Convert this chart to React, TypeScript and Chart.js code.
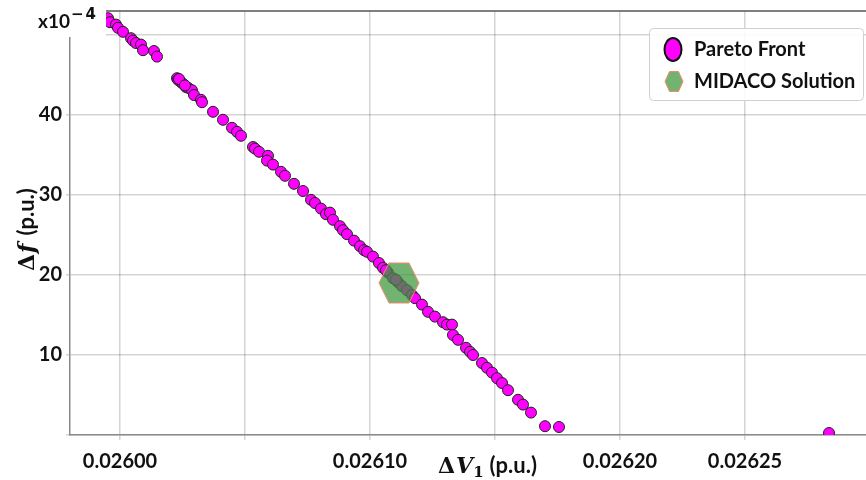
import React, { useEffect, useRef } from "react";
import { Chart, registerables } from "chart.js";

Chart.register(...registerables);

// Pareto front points (ΔV1 in p.u., Δf in units of 1e-4 p.u.)
const paretoX = [
  0.0259952, 0.025996, 0.0259984, 0.0259992, 0.0260012, 0.0260044, 0.0260052, 0.0260064,
  0.0260084, 0.0260092, 0.0260136, 0.0260148, 0.0260228, 0.0260232, 0.0260244, 0.0260252,
  0.0260264, 0.0260272, 0.0260288, 0.0260296, 0.0260324, 0.0260328, 0.0260372, 0.0260412,
  0.0260448, 0.0260468, 0.0260484, 0.0260532, 0.026054, 0.0260556, 0.0260592, 0.0260588,
  0.0260612, 0.0260644, 0.026066, 0.0260696, 0.0260732, 0.0260764, 0.026078, 0.0260804,
  0.0260824, 0.026084, 0.0260852, 0.026088, 0.0260892, 0.0260908, 0.0260936, 0.026096,
  0.0260976, 0.0260988, 0.0261012, 0.0261036, 0.0261052, 0.0261072, 0.0261092, 0.0261112,
  0.0261128, 0.0261148, 0.0261168, 0.026118, 0.0261208, 0.0261232, 0.026126, 0.0261292,
  0.0261308, 0.0261328, 0.0261332, 0.0261352, 0.0261384, 0.02614, 0.0261412, 0.0261448,
  0.0261468, 0.0261488, 0.0261508, 0.0261528, 0.0261552, 0.0261592, 0.0261612, 0.0261644,
  0.02617, 0.0261756, 0.0262836, 0.0261064, 0.0261104, 0.0260236, 0.026026,
];
const paretoY = [
  52.1, 51.6, 51.3, 50.9, 50.4, 49.6, 49.3, 49.0,
  48.8, 48.1, 48.0, 47.3, 44.6, 44.4, 44.1, 43.9,
  43.5, 43.4, 43.1, 42.5, 41.9, 41.6, 40.4, 39.4,
  38.4, 37.9, 37.4, 36.0, 35.8, 35.4, 34.9, 34.3,
  33.8, 32.9, 32.4, 31.4, 30.5, 29.4, 29.0, 28.3,
  27.6, 27.8, 26.9, 26.1, 25.6, 25.1, 24.3, 23.6,
  23.1, 22.9, 22.3, 21.5, 20.9, 20.3, 19.6, 19.1,
  18.6, 18.1, 17.5, 17.1, 16.3, 15.4, 14.8, 14.1,
  13.8, 13.8, 12.5, 11.9, 10.9, 10.4, 10.0, 9.0,
  8.4, 7.8, 7.1, 6.5, 5.6, 4.4, 3.8, 2.8,
  1.1, 1.0, 0.25, 20.6, 19.4, 44.5, 43.7,
];

// MIDACO solution
const midacoX = [0.0261116];
const midacoY = [19.0];

const seriesLabels = ["Pareto Front", "MIDACO Solution"];

const xTickValues = [0.026, 0.02605, 0.0261, 0.02615, 0.0262, 0.02625];
const xTickLabels = ["0.02600", "", "0.02610", "", "0.02620", "0.02625"];
const yTickValues = [0, 10, 20, 30, 40, 50];
const yTickLabels = ["", "10", "20", "30", "40", ""];

const X_MIN = 0.02598;
const X_MAX = 0.0262984;
const Y_MIN = 0;
const Y_MAX = 53;

const HEX_FILL = "rgba(60,150,60,0.72)";
const HEX_EDGE = "#f4876f";
const PARETO_FILL = "#ff00ff";

function hexPath(ctx: CanvasRenderingContext2D, cx: number, cy: number, rx: number, ry: number) {
  ctx.beginPath();
  for (let i = 0; i < 6; i++) {
    const a = (Math.PI / 3) * i;
    const px = cx + rx * Math.cos(a);
    const py = cy + ry * Math.sin(a);
    if (i === 0) ctx.moveTo(px, py);
    else ctx.lineTo(px, py);
  }
  ctx.closePath();
}

function makeHexImage(): HTMLCanvasElement {
  const c = document.createElement("canvas");
  c.width = 44;
  c.height = 44;
  const ctx = c.getContext("2d")!;
  hexPath(ctx, 22, 22, 20, 23.1);
  ctx.fillStyle = HEX_FILL;
  ctx.fill();
  ctx.lineWidth = 1;
  ctx.strokeStyle = HEX_EDGE;
  ctx.stroke();
  return c;
}

const overlayPlugin = {
  id: "overlay",
  afterDraw(chart: any) {
    const ctx: CanvasRenderingContext2D = chart.ctx;
    const area = chart.chartArea;
    ctx.save();

    // top spine
    ctx.strokeStyle = "#555";
    ctx.lineWidth = 1.5;
    ctx.beginPath();
    ctx.moveTo(area.left, area.top);
    ctx.lineTo(area.right, area.top);
    ctx.stroke();

    // white box with exponent label (top-left)
    ctx.fillStyle = "#fff";
    ctx.fillRect(0, 0, 106, 37);
    ctx.fillStyle = "#111";
    ctx.textBaseline = "alphabetic";
    ctx.textAlign = "left";
    ctx.font = "bold 19px Lato, 'DejaVu Sans', sans-serif";
    ctx.fillText("x10", 38, 28);
    const w1 = ctx.measureText("x10").width;
    ctx.font = "bold 15px 'DejaVu Sans', sans-serif";
    ctx.fillText("\u2212", 38 + w1 + 1, 19);
    const w2 = ctx.measureText("\u2212").width;
    ctx.fillText("4", 38 + w1 + w2 + 3, 19);

    // x axis title: ΔV1 (p.u.)
    let x = 438;
    const yb = 473;
    ctx.font = "bold 22px 'DejaVu Serif', serif";
    ctx.fillText("\u0394", x, yb);
    x += ctx.measureText("\u0394").width + 1;
    ctx.font = "italic bold 22px 'DejaVu Serif', serif";
    ctx.fillText("V", x, yb);
    x += ctx.measureText("V").width;
    ctx.font = "bold 15px 'DejaVu Serif', serif";
    ctx.fillText("1", x, yb + 4);
    x += ctx.measureText("1").width + 6;
    ctx.font = "bold 22px Lato, sans-serif";
    ctx.fillText("(p.u.)", x, yb);

    // y axis title: Δf (p.u.)
    ctx.save();
    ctx.translate(34, 271);
    ctx.rotate(-Math.PI / 2);
    let yx = 0;
    ctx.font = "bold 22px 'DejaVu Serif', serif";
    ctx.fillText("\u0394", yx, 0);
    yx += ctx.measureText("\u0394").width + 1;
    ctx.font = "italic bold 22px 'DejaVu Serif', serif";
    ctx.fillText("f", yx, 0);
    yx += ctx.measureText("f").width + 8;
    ctx.font = "bold 22px Lato, sans-serif";
    ctx.fillText("(p.u.)", yx, 0);
    ctx.restore();

    // legend
    const lx = 649.5, ly = 28.5, lw = 214, lh = 72;
    ctx.beginPath();
    (ctx as any).roundRect(lx, ly, lw, lh, 4);
    ctx.fillStyle = "rgba(255,255,255,0.9)";
    ctx.fill();
    ctx.strokeStyle = "#d0d0d0";
    ctx.lineWidth = 1;
    ctx.stroke();

    ctx.beginPath();
    ctx.ellipse(673, 49.5, 8.5, 11.5, 0, 0, Math.PI * 2);
    ctx.fillStyle = PARETO_FILL;
    ctx.fill();
    ctx.strokeStyle = "#111";
    ctx.lineWidth = 2;
    ctx.stroke();

    hexPath(ctx, 674, 81.5, 9, 11.5);
    ctx.fillStyle = HEX_FILL;
    ctx.fill();
    ctx.strokeStyle = HEX_EDGE;
    ctx.lineWidth = 1;
    ctx.stroke();

    ctx.fillStyle = "#111";
    ctx.font = "bold 20px Lato, sans-serif";
    ctx.textBaseline = "middle";
    ctx.fillText(seriesLabels[0], 694, 50);
    ctx.fillText(seriesLabels[1], 694, 82);

    ctx.restore();
  },
};

function zeroPadding(scale: any) {
  scale.paddingTop = 0;
  scale.paddingBottom = 0;
  scale.paddingLeft = 0;
  scale.paddingRight = 0;
}

export default function App() {
  const canvasRef = useRef<HTMLCanvasElement | null>(null);

  useEffect(() => {
    const canvas = canvasRef.current;
    if (!canvas) return;
    const hexImg = makeHexImage();

    const pareto = paretoX.map((v, i) => ({ x: v, y: paretoY[i] }));
    const midaco = midacoX.map((v, i) => ({ x: v, y: midacoY[i] }));

    const tickFont = { family: "Lato, 'Open Sans', sans-serif", size: 20, weight: "bold" as const };

    const chart = new Chart(canvas, {
      type: "scatter",
      data: {
        datasets: [
          {
            label: seriesLabels[1],
            data: midaco,
            pointStyle: hexImg as any,
            pointRadius: 20,
            order: 0,
            clip: 0 as any,
          },
          {
            label: seriesLabels[0],
            data: pareto,
            pointStyle: "circle",
            pointRadius: 5.5,
            pointBackgroundColor: PARETO_FILL,
            pointBorderColor: "#222",
            pointBorderWidth: 1,
            order: 1,
            clip: 0 as any,
          },
        ],
      },
      options: {
        responsive: false,
        animation: false,
        events: [],
        layout: { autoPadding: false, padding: { top: 11, right: 0, left: 0, bottom: 0 } },
        plugins: {
          legend: { display: false },
          tooltip: { enabled: false },
          title: { display: false },
        },
        scales: {
          x: {
            type: "linear",
            min: X_MIN,
            max: X_MAX,
            afterBuildTicks: (scale: any) => {
              scale.ticks = xTickValues.map((v) => ({ value: v }));
            },
            afterFit: (scale: any) => {
              scale.height = 45;
              zeroPadding(scale);
            },
            ticks: {
              autoSkip: false,
              maxRotation: 0,
              padding: 10,
              color: "#111",
              font: tickFont,
              callback: (value: any) => {
                const i = xTickValues.findIndex((v) => Math.abs(v - Number(value)) < 1e-9);
                return i >= 0 ? xTickLabels[i] : "";
              },
            },
            grid: {
              color: "rgba(0,0,0,0.17)",
              lineWidth: 1.5,
              tickLength: 5,
              drawTicks: true,
            },
            border: { display: true, color: "#8a8a8a", width: 1.5 },
          },
          y: {
            type: "linear",
            min: Y_MIN,
            max: Y_MAX,
            afterBuildTicks: (scale: any) => {
              scale.ticks = yTickValues.map((v) => ({ value: v }));
            },
            afterFit: (scale: any) => {
              scale.width = 70;
              zeroPadding(scale);
            },
            ticks: {
              autoSkip: false,
              padding: 4,
              color: "#111",
              font: tickFont,
              callback: (value: any) => {
                const i = yTickValues.findIndex((v) => Math.abs(v - Number(value)) < 1e-9);
                return i >= 0 ? yTickLabels[i] : "";
              },
            },
            grid: {
              color: "rgba(0,0,0,0.17)",
              lineWidth: 1.5,
              tickLength: 4,
              drawTicks: true,
            },
            border: { display: true, color: "#8a8a8a", width: 1.5 },
          },
        },
      },
      plugins: [overlayPlugin],
    });

    return () => chart.destroy();
  }, []);

  return (
    <div style={{ position: "fixed", left: 0, top: 0, width: 866, height: 480, background: "#fff" }}>
      <canvas ref={canvasRef} width={866} height={480} style={{ display: "block" }} />
    </div>
  );
}
